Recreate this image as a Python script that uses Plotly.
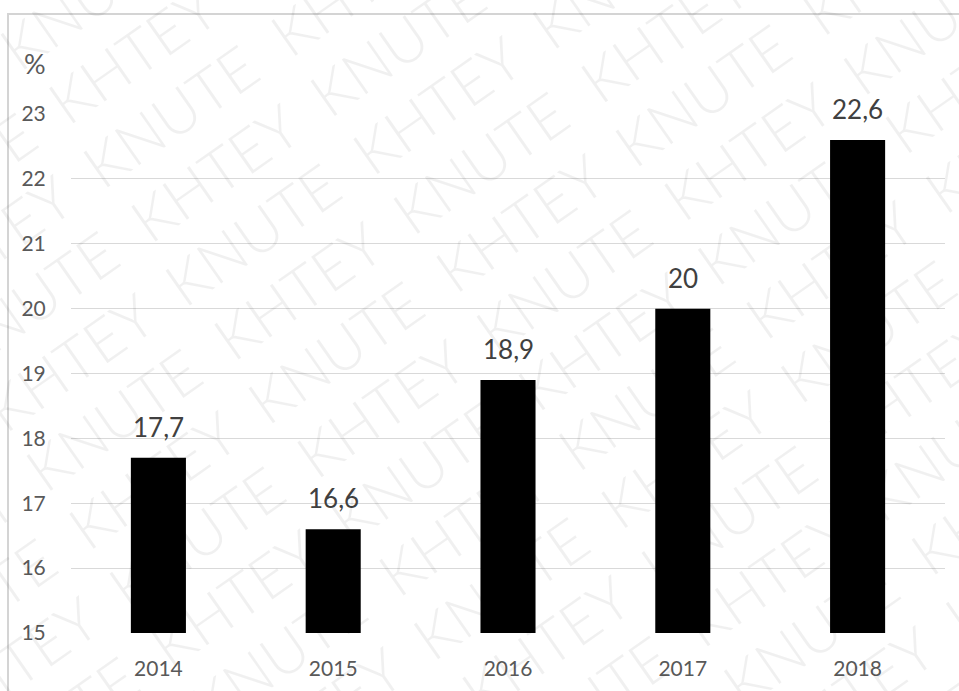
import math
import plotly.graph_objects as go

# Share of the indicator by year, %
years = ["2014", "2015", "2016", "2017", "2018"]
values = [17.7, 16.6, 18.9, 20.0, 22.6]
y_ticks = [15, 16, 17, 18, 19, 20, 21, 22, 23]
watermark_words = ["KNUTE", "KHTEY"]

W, H = 959, 691
ML, MR, MT, MB = 71, 14, 114, 58
PW, PH = W - ML - MR, H - MT - MB
FONT = "Lato, 'Open Sans', sans-serif"


def to_paper(px, py):
    return (px - ML) / PW, (H - MB - py) / PH


fig = go.Figure()
fig.add_trace(go.Bar(
    x=years, y=values,
    marker=dict(color="#000000", line=dict(width=0)),
    hoverinfo="skip",
))

annotations = []

# value labels above the bars, with a decimal comma
# (category axis: annotation x is the category index)
for i, v in enumerate(values):
    annotations.append(dict(
        x=i, y=v, xref="x", yref="y",
        text=f"{v:g}".replace(".", ","),
        showarrow=False, yanchor="bottom", yshift=13,
        font=dict(family=FONT, size=26, color="#404040"),
    ))

# unit label over the y axis
px, py = to_paper(22, 63)
annotations.append(dict(
    x=px, y=py, xref="paper", yref="paper", text="%",
    showarrow=False, xanchor="left", yanchor="middle",
    font=dict(family=FONT, size=27, color="#595959"),
))

# diagonal repeated watermark
angle = 35
ca, sa = math.cos(math.radians(angle)), math.sin(math.radians(angle))
line_text = "  ".join(watermark_words * 6)
line_text_b = "  ".join(watermark_words[::-1] * 6)
cx, cy = 470, 345
spacing = 72
for k in range(-9, 10):
    px_ = cx + k * spacing * sa
    py_ = cy + k * spacing * ca
    x_p, y_p = to_paper(px_, py_)
    annotations.append(dict(
        x=x_p, y=y_p, xref="paper", yref="paper",
        text=line_text if k % 2 == 0 else line_text_b,
        showarrow=False, textangle=-angle,
        xanchor="center", yanchor="middle",
        font=dict(family=FONT, size=60, color="rgba(0,0,0,0.06)", weight=300),
    ))

# outer chart-area frame
x0, y1 = to_paper(8, 14)
shapes = [dict(
    type="rect", xref="paper", yref="paper",
    x0=x0, y0=-0.3, x1=1.2, y1=y1,
    line=dict(color="#d4d4d4", width=2), fillcolor="rgba(0,0,0,0)",
    layer="below",
)]

fig.update_layout(
    width=W, height=H,
    margin=dict(l=ML, r=MR, t=MT, b=MB, pad=0),
    paper_bgcolor="#ffffff", plot_bgcolor="#ffffff",
    showlegend=False,
    bargap=0.685,
    annotations=annotations,
    shapes=shapes,
    font=dict(family=FONT),
)
fig.update_xaxes(
    type="category", range=[-0.5, len(years) - 0.5],
    showgrid=False, showline=False, zeroline=False,
    ticks="outside", ticklen=17, tickcolor="rgba(0,0,0,0)",
    tickfont=dict(family=FONT, size=21, color="#595959"),
)
fig.update_yaxes(
    range=[14.999, 23.001],
    tickvals=y_ticks, ticktext=[str(t) for t in y_ticks],
    showgrid=True, gridcolor="#d9d9d9", gridwidth=1,
    showline=False, zeroline=False,
    ticks="outside", ticklen=20, tickcolor="rgba(0,0,0,0)",
    tickfont=dict(family=FONT, size=21, color="#595959"),
)

fig.write_html("out.html")
